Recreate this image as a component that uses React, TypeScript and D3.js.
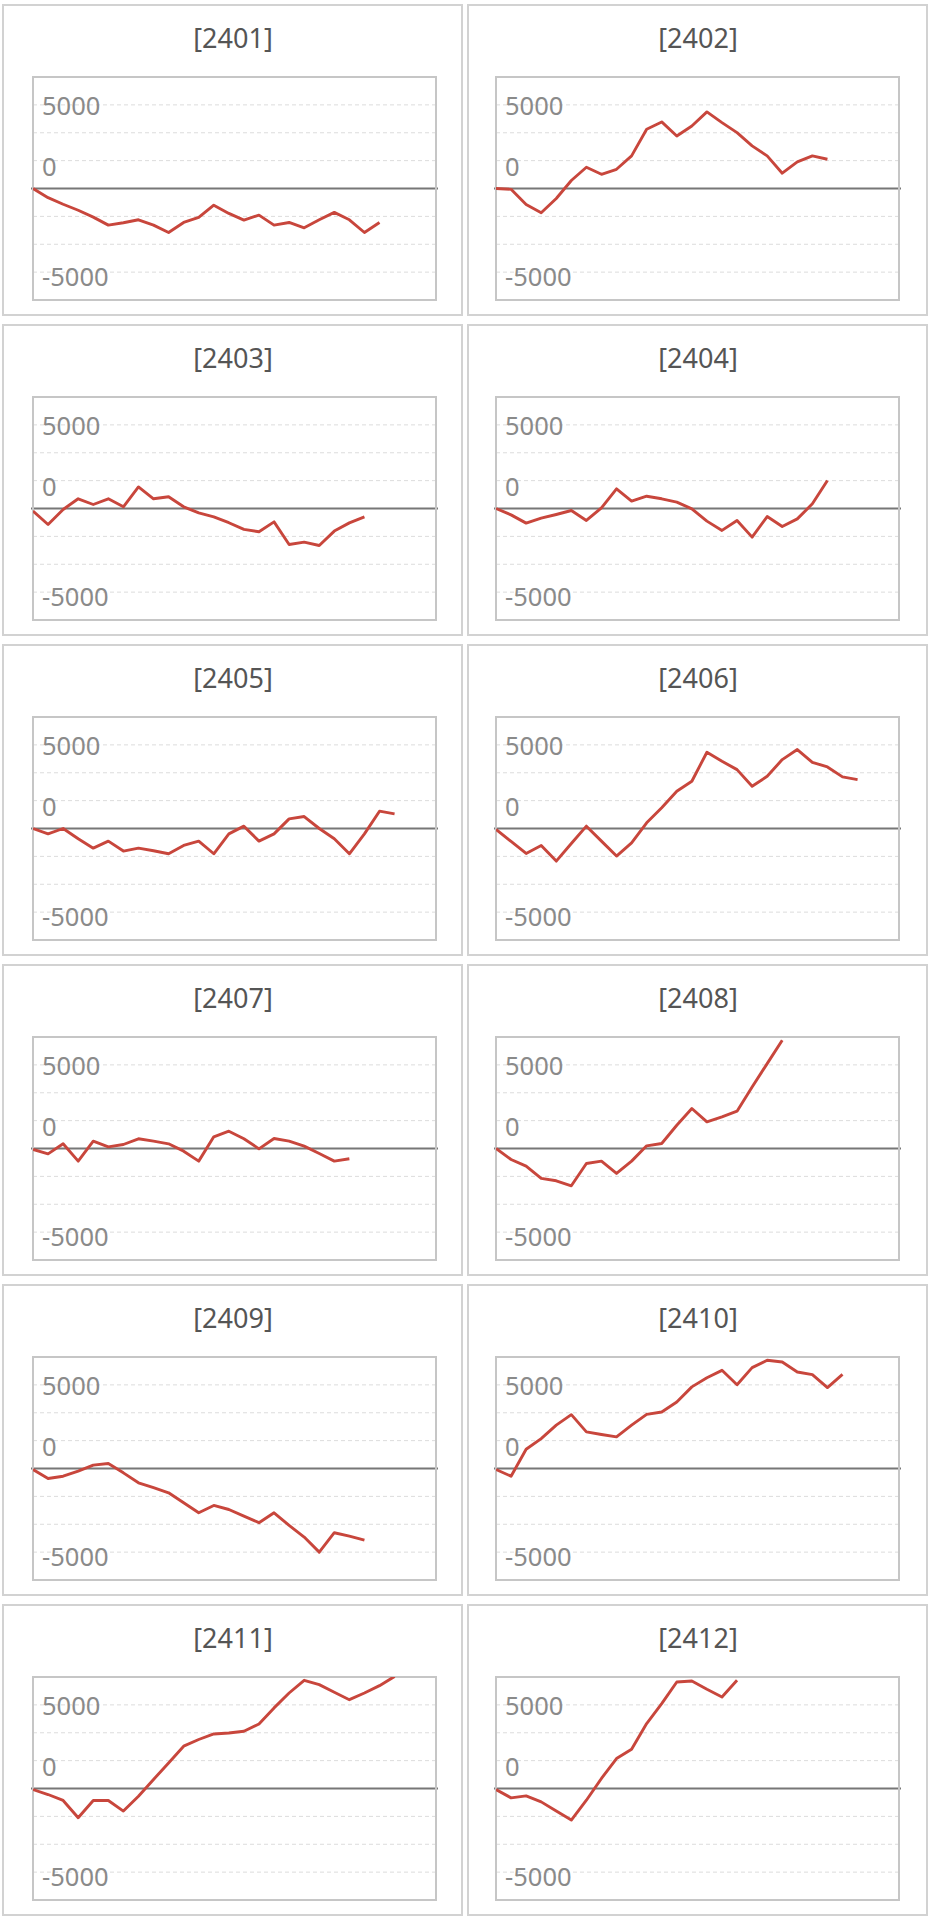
import * as d3 from 'd3'
import { useEffect } from 'react'

// monthly cumulative curves, one value per step
const months = ['2401', '2402', '2403', '2404', '2405', '2406', '2407', '2408', '2409', '2410', '2411', '2412']

const s2401 = [0, -550, -940, -1300, -1710, -2190, -2050, -1870, -2190, -2630, -2030, -1730, -1000, -1490, -1890, -1590, -2190, -2030, -2350, -1870, -1430, -1870, -2630, -2030]
const s2402 = [0, -50, -955, -1450, -600, 480, 1270, 850, 1150, 1950, 3540, 3980, 3140, 3740, 4580, 3940, 3340, 2550, 1950, 915, 1590, 1950, 1750]
const s2403 = [-150, -955, -60, 580, 240, 580, 100, 1290, 580, 700, 100, -260, -500, -850, -1250, -1390, -800, -2150, -2010, -2210, -1350, -860, -500]
const s2404 = [0, -380, -875, -580, -360, -120, -715, 40, 1175, 440, 735, 580, 380, -20, -755, -1310, -715, -1710, -480, -1075, -620, 280, 1670]
const s2405 = [0, -320, 0, -615, -1175, -755, -1350, -1175, -1330, -1510, -1015, -755, -1510, -320, 140, -755, -320, 575, 715, 0, -615, -1510, -320, 1035, 875]
const s2406 = [-60, -775, -1490, -1015, -1950, -895, 140, -755, -1650, -855, 340, 1235, 2230, 2825, 4560, 4020, 3520, 2530, 3120, 4120, 4720, 3960, 3680, 3085, 2925]
const s2407 = [-60, -320, 280, -755, 440, 100, 240, 580, 440, 280, -160, -755, 700, 1035, 580, -20, 600, 440, 140, -300, -755, -615]
const s2408 = [0, -655, -1055, -1790, -1930, -2230, -895, -755, -1490, -755, 160, 300, 1390, 2390, 1590, 1890, 2230, 3680, 5075, 6470]
const s2409 = [-60, -600, -460, -160, 200, 300, -260, -855, -1150, -1450, -2050, -2650, -2210, -2450, -2850, -3240, -2650, -3400, -4100, -5000, -3840, -4040, -4280]
const s2410 = [-60, -460, 1150, 1790, 2590, 3220, 2190, 2030, 1890, 2590, 3240, 3380, 3980, 4880, 5430, 5870, 5010, 6030, 6470, 6370, 5770, 5610, 4840, 5630]
const s2411 = [-60, -360, -715, -1750, -715, -715, -1350, -460, 540, 1530, 2530, 2930, 3260, 3320, 3420, 3860, 4820, 5710, 6470, 6210, 5750, 5310, 5710, 6150, 6700]
const s2412 = [-60, -560, -440, -800, -1350, -1890, -700, 600, 1790, 2350, 3880, 5075, 6370, 6430, 5930, 5470, 6470]

const series = [s2401, s2402, s2403, s2404, s2405, s2406, s2407, s2408, s2409, s2410, s2411, s2412]

const tickValues = [5000, 0, -5000]
const tickLabels = ['5000', '0', '-5000']

const W = 930
const H = 1920
const rowH = 320
const lineColor = '#c8463c'

const Panel = ({ id, values, col, row }) => {
    const panelX = col === 0 ? 3 : 468
    const panelY = row * rowH + 5
    const boxX = col === 0 ? 33 : 496
    const boxY = panelY + 72
    const boxW = 403
    const boxH = 223

    const x = d3.scaleLinear().domain([0, 26.75]).range([boxX, boxX + boxW])
    const y = d3.scaleLinear().domain([-20000 / 3, 20000 / 3]).range([boxY + boxH, boxY])

    const grid = d3.range(-3, 4).filter(k => k !== 0).map(k => (k * 5000) / 3)

    const line = d3
        .line<number>()
        .x((d, i) => x(i))
        .y(d => y(d))

    const labelShift = { '5000': 0, '0': -23, '-5000': 4 }
    const clipId = `clip-${id}`

    return (
        <g>
            <rect x={panelX} y={panelY} width={459} height={310} fill="#fff" stroke="#d2d2d2" strokeWidth={2} />
            <text
                x={panelX + 230}
                y={panelY + 32}
                textAnchor="middle"
                dominantBaseline="central"
                fontSize={27}
                fill="#555"
                fontFamily="'Noto Sans', sans-serif"
            >
                [{id}]
            </text>
            <defs>
                <clipPath id={clipId}>
                    <rect x={boxX} y={boxY} width={boxW} height={boxH} />
                </clipPath>
            </defs>
            {grid.map(g => (
                <line
                    key={g}
                    x1={boxX}
                    x2={boxX + boxW}
                    y1={y(g)}
                    y2={y(g)}
                    stroke="#dcdcdc"
                    strokeWidth={1}
                    strokeDasharray="4,3"
                />
            ))}
            {tickValues.map((t, i) => (
                <text
                    key={t}
                    x={boxX + 9}
                    y={y(t) + labelShift[tickLabels[i]]}
                    dominantBaseline="central"
                    fontSize={25.5}
                    fill="#8a8a8a"
                    fontFamily="'Noto Sans', sans-serif"
                >
                    {tickLabels[i]}
                </text>
            ))}
            <line x1={boxX - 2} x2={boxX + boxW + 2} y1={y(0)} y2={y(0)} stroke="#777" strokeWidth={2} />
            <rect x={boxX} y={boxY} width={boxW} height={boxH} fill="none" stroke="#c6c6c6" strokeWidth={2} />
            <path
                d={line(values)}
                fill="none"
                stroke={lineColor}
                strokeWidth={2.9}
                strokeLinejoin="round"
                clipPath={`url(#${clipId})`}
            />
        </g>
    )
}

const App = () => {
    useEffect(() => {
        document.body.style.margin = '0'
    }, [])

    return (
        <svg width={W} height={H} style={{ position: 'absolute', left: 0, top: 0, background: '#fff' }}>
            <rect width={W} height={H} fill="#fff" />
            {months.map((m, i) => (
                <Panel key={m} id={m} values={series[i]} col={i % 2} row={Math.floor(i / 2)} />
            ))}
        </svg>
    )
}

export default App
